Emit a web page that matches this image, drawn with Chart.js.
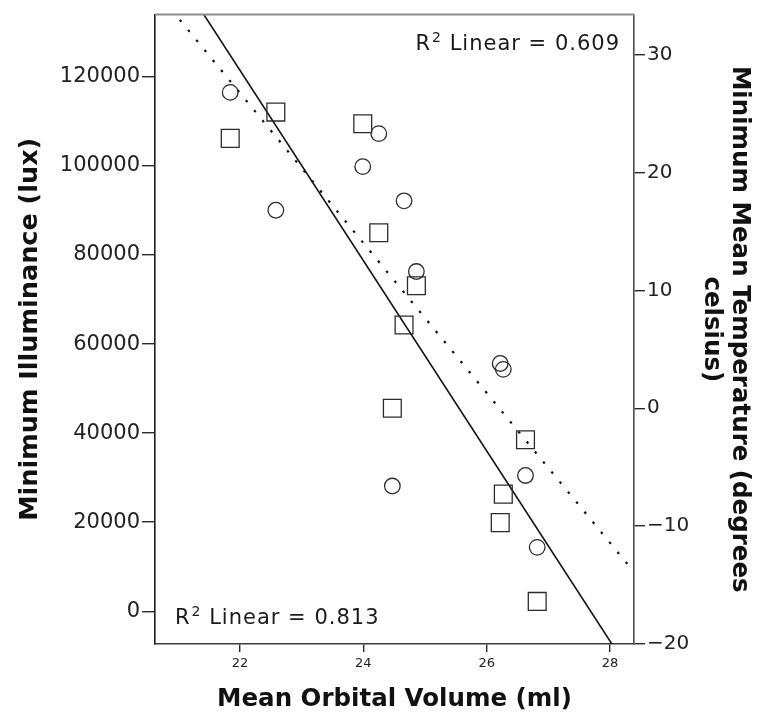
<!DOCTYPE html>
<html>
<head>
<meta charset="utf-8">
<script src="https://cdn.jsdelivr.net/npm/chart.js@4.4.1/dist/chart.umd.min.js"></script>
<style>
  html, body { margin: 0; padding: 0; background: #fff; }
</style>
</head>
<body>
<canvas id="orbitChart" width="758" height="715"></canvas>
<script>
// Mean orbital volume (ml), one entry per population
const orbitalVolume = [21.84, 22.58, 23.99, 24.25, 24.66, 24.86, 26.22, 26.27, 26.63, 24.47, 26.82];
// Minimum illuminance (lux) -> squares, left axis
const minIlluminance = [106200, 112100, 109500, 85000, 64300, 73100, 19900, 26300, 38500, 45600, 2200];
// Minimum mean temperature (deg C) -> circles, right axis
const minTemperature = [26.8, 16.8, 20.5, 23.3, 17.6, 11.6, 3.8, 3.3, -5.7, -6.6, -11.8];

const xTicks = [22, 24, 26, 28];
const luxTicks = [0, 20000, 40000, 60000, 80000, 100000, 120000];
const tempTicks = [-20, -10, 0, 10, 20, 30];

const xRange = [20.62, 28.39];
const luxRange = [-7360, 134000];
const tempRange = [-20, 33.4];

// R² of the linear fits: [illuminance, temperature]
const fitR2 = [0.813, 0.609];

const FONT = 'DejaVu Sans';

// ordinary least squares line evaluated at both ends of the x range
function fitLine(xs, ys) {
  const n = xs.length;
  const mx = xs.reduce((a, b) => a + b, 0) / n;
  const my = ys.reduce((a, b) => a + b, 0) / n;
  let sxy = 0, sxx = 0;
  for (let i = 0; i < n; i++) {
    sxy += (xs[i] - mx) * (ys[i] - my);
    sxx += (xs[i] - mx) * (xs[i] - mx);
  }
  const b = sxy / sxx;
  const a = my - b * mx;
  return xRange.map(x => ({ x, y: a + b * x }));
}

const toPoints = ys => orbitalVolume.map((x, i) => ({ x, y: ys[i] }));

const fixedTicks = list => scale => { scale.ticks = list.map(v => ({ value: v })); };

// thin grey rule across the top of the plot
const topFrame = {
  id: 'topFrame',
  afterDraw(chart) {
    const { ctx, chartArea: a } = chart;
    ctx.save();
    ctx.strokeStyle = '#8c8c8c';
    ctx.lineWidth = 2;
    ctx.beginPath();
    ctx.moveTo(a.left, a.top);
    ctx.lineTo(a.right, a.top);
    ctx.stroke();
    ctx.restore();
  }
};

// "R² Linear = ..." captions
function drawR2(ctx, value, x, y, alignRight) {
  const main = '21px "' + FONT + '"';
  const sup = '14px "' + FONT + '"';
  const tail = ' Linear = ' + value.toFixed(3);
  ctx.letterSpacing = '1px';
  ctx.font = main;
  const wR = ctx.measureText('R').width;
  const wTail = ctx.measureText(tail).width;
  ctx.font = sup;
  const wSup = ctx.measureText('2').width + 1;
  let sx = alignRight ? x - (wR + wSup + wTail) : x;
  ctx.textBaseline = 'alphabetic';
  ctx.textAlign = 'left';
  ctx.fillStyle = '#1a1a1a';
  ctx.font = main;
  ctx.fillText('R', sx, y);
  ctx.font = sup;
  ctx.fillText('2', sx + wR + 1, y - 8);
  ctx.font = main;
  ctx.fillText(tail, sx + wR + wSup, y);
}

const r2Labels = {
  id: 'r2Labels',
  afterDraw(chart) {
    const { ctx, chartArea: a } = chart;
    ctx.save();
    drawR2(ctx, fitR2[1], a.right - 14, a.top + 35, true);
    drawR2(ctx, fitR2[0], a.left + 20, a.bottom - 20, false);
    ctx.restore();
  }
};

const tickGrid = len => ({
  display: true,
  drawOnChartArea: false,
  drawTicks: true,
  tickLength: len,
  color: '#2a2a2a',
  lineWidth: 1.4
});

new Chart(document.getElementById('orbitChart'), {
  data: {
    datasets: [
      {
        type: 'scatter',
        label: 'Minimum Illuminance',
        data: toPoints(minIlluminance),
        yAxisID: 'y',
        pointStyle: 'rect',
        pointRadius: 12.6,
        pointBorderWidth: 1.3,
        pointBorderColor: '#2b2b2b',
        pointBackgroundColor: 'rgba(0,0,0,0)'
      },
      {
        type: 'scatter',
        label: 'Minimum Mean Temperature',
        data: toPoints(minTemperature),
        yAxisID: 'y2',
        pointStyle: 'circle',
        pointRadius: 7.8,
        pointBorderWidth: 1.3,
        pointBorderColor: '#2b2b2b',
        pointBackgroundColor: 'rgba(0,0,0,0)'
      },
      {
        type: 'line',
        label: 'Illuminance fit',
        data: fitLine(orbitalVolume, minIlluminance),
        yAxisID: 'y',
        borderColor: '#111',
        borderWidth: 1.6,
        pointRadius: 0,
        tension: 0
      },
      {
        type: 'line',
        label: 'Temperature fit',
        data: fitLine(orbitalVolume, minTemperature),
        yAxisID: 'y2',
        borderColor: '#111',
        borderWidth: 2.2,
        borderDash: [2.5, 10.5],
        pointRadius: 0,
        tension: 0
      }
    ]
  },
  plugins: [topFrame, r2Labels],
  options: {
    responsive: false,
    animation: false,
    devicePixelRatio: 1,
    layout: { padding: { top: 10, left: 0, right: 0, bottom: 0 } },
    plugins: {
      legend: { display: false },
      tooltip: { enabled: false }
    },
    scales: {
      x: {
        type: 'linear',
        position: 'bottom',
        min: xRange[0],
        max: xRange[1],
        afterBuildTicks: fixedTicks(xTicks),
        afterFit(s) { s.height = 71; },
        grid: tickGrid(8),
        border: { display: true, color: '#3a3a3a', width: 1.6 },
        ticks: { font: { family: FONT, size: 13 }, color: '#222', padding: 4, maxRotation: 0 },
        title: {
          display: true,
          text: 'Mean Orbital Volume (ml)',
          color: '#111',
          font: { family: FONT, size: 24.5, weight: 'bold' },
          padding: { top: 0, bottom: 1 }
        }
      },
      y: {
        type: 'linear',
        position: 'left',
        min: luxRange[0],
        max: luxRange[1],
        afterBuildTicks: fixedTicks(luxTicks),
        afterFit(s) { s.width = 155; },
        grid: tickGrid(13),
        border: { display: true, color: '#1e1e1e', width: 1.6 },
        ticks: {
          font: { family: FONT, size: 21 },
          color: '#222',
          padding: 2,
          callback: v => String(v)
        },
        title: {
          display: true,
          text: 'Minimum Illuminance (lux)',
          color: '#111',
          font: { family: FONT, size: 25.5, weight: 'bold' },
          padding: { top: 15, bottom: 0 }
        }
      },
      y2: {
        type: 'linear',
        position: 'right',
        min: tempRange[0],
        max: tempRange[1],
        afterBuildTicks: fixedTicks(tempTicks),
        afterFit(s) { s.width = 124; },
        grid: tickGrid(11),
        border: { display: true, color: '#4a4a4a', width: 1.6 },
        ticks: {
          font: { family: FONT, size: 20 },
          color: '#222',
          padding: 2,
          callback: v => (v < 0 ? '\u2212' + Math.abs(v) : String(v))
        },
        title: {
          display: true,
          text: ['Minimum Mean Temperature (degrees', 'celsius)'],
          color: '#111',
          font: { family: FONT, size: 24.5, weight: 'bold', lineHeight: 1.12 },
          padding: { top: 5, bottom: 0 }
        }
      }
    }
  }
});
</script>
</body>
</html>
